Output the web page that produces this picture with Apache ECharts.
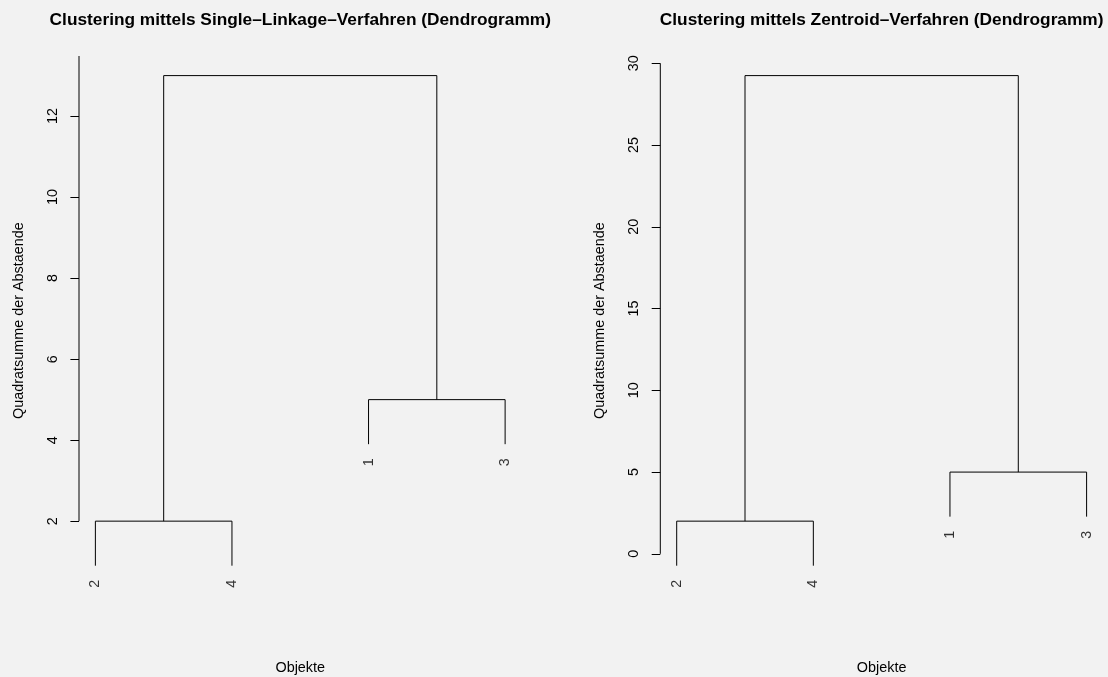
<!DOCTYPE html>
<html>
<head>
<meta charset="utf-8">
<script src="https://cdn.jsdelivr.net/npm/echarts@6/dist/echarts.min.js"></script>
<style>
  html, body { margin: 0; padding: 0; background: #f2f2f2; }
  #chart { width: 1108px; height: 677px; }
</style>
</head>
<body>
<div id="chart"></div>
<script>
// leaf order as drawn (observation numbers)
const leafOrder = [2, 4, 1, 3]
// merge steps, R style: negative = observation, positive = earlier merge
const mergeSingle = [[-2, -4], [-1, -3], [1, 2]]
const heightsSingle = [2, 5, 13]
const mergeCentroid = [[-2, -4], [-1, -3], [1, 2]]
const heightsCentroid = [2, 5, 29.25]
const ticksSingle = [2, 4, 6, 8, 10, 12]
const ticksCentroid = [0, 5, 10, 15, 20, 25, 30]
const titles = [
  'Clustering mittels Single\u2013Linkage\u2013Verfahren (Dendrogramm)',
  'Clustering mittels Zentroid\u2013Verfahren (Dendrogramm)',
]
const yTitle = 'Quadratsumme der Abstaende'
const xTitle = 'Objekte'

const FONT = 'Liberation Sans, Arial, Helvetica, sans-serif'
const grids = [
  { left: 79, top: 56, width: 442.5, height: 529.3, outerBoundsMode: 'none' },
  { left: 660.3, top: 56, width: 442.7, height: 529.3, outerBoundsMode: 'none' },
]

// build everything one panel needs from the merge table
function buildPanel (idx, merge, heights, ticks, lineTop) {
  const hang = 0.1 * (Math.max(...heights) - Math.min(...heights))
  const leafX = {}
  leafOrder.forEach((obs, i) => { leafX[obs] = i + 1 })
  const nodeX = []
  const childPos = (c, h) => c < 0 ? [leafX[-c], h - hang] : [nodeX[c - 1], heights[c - 1]]

  const series = []
  const leaves = []
  merge.forEach((pair, i) => {
    const h = heights[i]
    const a = childPos(pair[0], h)
    const b = childPos(pair[1], h)
    nodeX[i] = (a[0] + b[0]) / 2
    pair.forEach((c, k) => {
      if (c < 0) leaves.push({ value: k === 0 ? a : b, name: String(-c) })
    })
    series.push({
      type: 'line',
      xAxisIndex: idx,
      yAxisIndex: idx,
      data: [a, [a[0], h], [b[0], h], b],
      symbol: 'none',
      lineStyle: { color: '#000', width: 1 },
      clip: false,
      silent: true,
    })
  })

  const lows = leaves.map(l => l.value[1])
  const yLo = Math.min(...lows)
  const yHi = Math.max(...heights)
  const pad = 0.04 * (yHi - yLo)
  const yMin = yLo - pad
  const yMax = yHi + pad
  const xMin = 1 - 0.04 * (leafOrder.length - 1)
  const xMax = leafOrder.length + 0.04 * (leafOrder.length - 1)

  // leaf labels
  series.push({
    type: 'scatter',
    xAxisIndex: idx,
    yAxisIndex: idx,
    data: leaves,
    symbol: 'circle',
    symbolSize: 2,
    itemStyle: { color: 'rgba(0,0,0,0)' },
    clip: false,
    silent: true,
    labelLayout: { hideOverlap: false },
    label: {
      show: true,
      position: 'bottom',
      distance: 13,
      rotate: 90,
      align: 'right',
      verticalAlign: 'middle',
      formatter: '{b}',
      color: '#000',
      fontSize: 14.4,
      fontFamily: FONT,
    },
  })

  // y axis line, from the first tick upwards
  series.push({
    type: 'line',
    xAxisIndex: idx,
    yAxisIndex: idx,
    data: [[xMin, ticks[0]], [xMin, lineTop === null ? yMax : lineTop]],
    symbol: 'none',
    lineStyle: { color: '#000', width: 1 },
    clip: false,
    silent: true,
  })

  const xAxis = {
    type: 'value',
    gridIndex: idx,
    min: xMin,
    max: xMax,
    axisLine: { show: false },
    axisTick: { show: false },
    axisLabel: { show: false },
    splitLine: { show: false },
    name: xTitle,
    nameLocation: 'middle',
    nameGap: 76,
    nameTextStyle: { color: '#000', fontSize: 14.4, fontFamily: FONT },
  }
  const yAxis = {
    type: 'value',
    gridIndex: idx,
    min: yMin,
    max: yMax,
    axisLine: { show: false },
    axisTick: { show: true, length: 8.6, customValues: ticks, lineStyle: { color: '#000' } },
    axisLabel: { customValues: ticks, rotate: 90, margin: 19, color: '#000', fontSize: 14.4, fontFamily: FONT },
    splitLine: { show: false },
    name: yTitle,
    nameLocation: 'middle',
    nameRotate: 90,
    nameGap: 53,
    nameTextStyle: { color: '#000', fontSize: 14.4, fontFamily: FONT },
  }
  return { series, xAxis, yAxis }
}

const p1 = buildPanel(0, mergeSingle, heightsSingle, ticksSingle, null)
const p2 = buildPanel(1, mergeCentroid, heightsCentroid, ticksCentroid, ticksCentroid[ticksCentroid.length - 1])

const chart = echarts.init(document.getElementById('chart'))
chart.setOption({
  backgroundColor: '#f2f2f2',
  animation: false,
  title: titles.map((t, i) => ({
    text: t,
    left: grids[i].left + grids[i].width / 2,
    top: 12,
    padding: 0,
    textAlign: 'center',
    textStyle: { color: '#000', fontSize: 17.3, fontWeight: 'bold', fontFamily: FONT },
  })),
  grid: grids,
  xAxis: [p1.xAxis, p2.xAxis],
  yAxis: [p1.yAxis, p2.yAxis],
  series: [...p1.series, ...p2.series],
})
</script>
</body>
</html>
